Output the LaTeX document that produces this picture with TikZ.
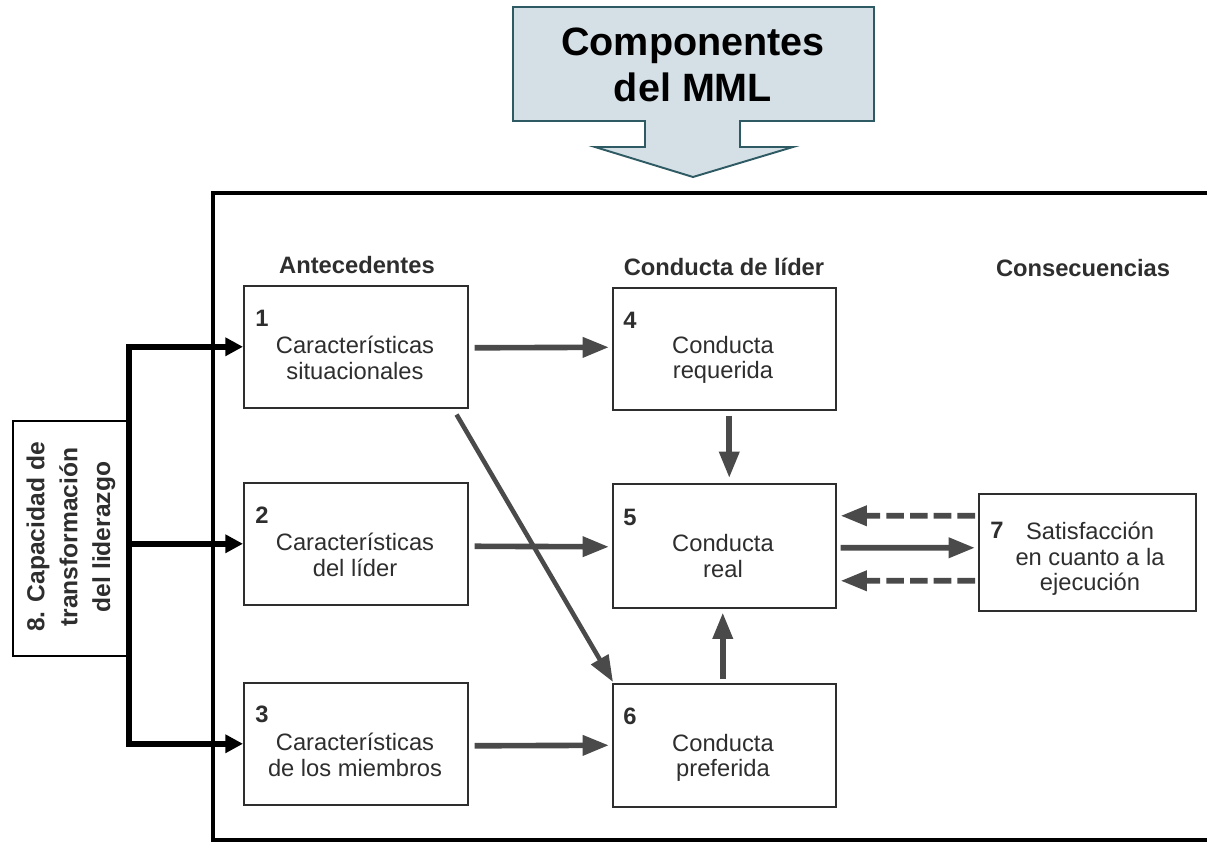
\documentclass[tikz,border=0pt]{standalone}
\usepackage{fontspec}
\setmainfont{Liberation Sans}
\usetikzlibrary{arrows.meta,calc}

\definecolor{titlefill}{HTML}{D5E0E6}
\definecolor{titleedge}{HTML}{2E5A63}
\definecolor{ink}{HTML}{2E2E2E}
\definecolor{flowgray}{HTML}{4A4A4A}

\begin{document}
\begin{tikzpicture}[x=0.02cm,y=-0.02cm,
  stagebox/.style={draw=ink, line width=0.9pt, fill=white, inner sep=0pt,
    anchor=north west, minimum width=4.48cm, minimum height=2.44cm},
  boxtext/.style={align=center, text=ink, inner sep=0pt,
    font=\fontsize{13.5}{14.6}\selectfont},
  numlabel/.style={text=ink, inner sep=0pt, font=\bfseries\fontsize{13.5}{14}\selectfont},
  header/.style={text=ink, inner sep=0pt, font=\bfseries\fontsize{13.5}{14}\selectfont},
  flow/.style={draw=flowgray, line width=3.2pt,
    -{Triangle[length=15pt,width=11pt]}},
  dashflow/.style={flow, dash pattern=on 10pt off 3.5pt},
  feed/.style={draw=black, line width=3.4pt, line join=miter,
    -{Triangle[length=10pt,width=10pt]}},
  frameline/.style={draw=black, line width=2.8pt, line join=miter}
]
\useasboundingbox (0,0) rectangle (1207,842);

% heading arrow
\fill[titlefill, draw=titleedge, line width=1.1pt, line join=miter]
  (513,7) -- (874,7) -- (874,121) -- (740,121) -- (740,147) -- (793,147)
  -- (693,177) -- (595,147) -- (645,147) -- (645,121) -- (513,121) -- cycle;
\node[align=center, inner sep=0pt, font=\bfseries\fontsize{22.5}{26}\selectfont]
  (title) at (693,65) {Componentes\\del MML};

% page frame
\draw[frameline] (1225,193) -- (213,193) -- (213,840) -- (1225,840);

% column headings
\node[header] (h1) at (357,265) {Antecedentes};
\node[header] (h2) at (724,267) {Conducta de líder};
\node[header] (h3) at (1083,268) {Consecuencias};

% antecedents
\node[stagebox] (b1) at (243,285) {};
\node[numlabel] (n1) at (262,318) {1};
\node[boxtext] (t1) at (355,358) {Características\\situacionales};

\node[stagebox] (b2) at (243,482) {};
\node[numlabel] (n2) at (262,515) {2};
\node[boxtext] (t2) at (355,555) {Características\\del líder};

\node[stagebox] (b3) at (243,682) {};
\node[numlabel] (n3) at (262,714) {3};
\node[boxtext] (t3) at (355,755) {Características\\de los miembros};

% leader behaviour
\node[stagebox, minimum width=4.46cm] (b4) at (612,287) {};
\node[numlabel] (n4) at (630,320) {4};
\node[boxtext] (t4) at (723,360) {Conducta\\requerida};

\node[stagebox, minimum width=4.46cm, minimum height=2.48cm] (b5) at (612,483) {};
\node[numlabel] (n5) at (630,517) {5};
\node[boxtext] (t5) at (723,556) {Conducta\\real};

\node[stagebox, minimum width=4.46cm, minimum height=2.46cm] (b6) at (612,683) {};
\node[numlabel] (n6) at (630,716) {6};
\node[boxtext] (t6) at (723,758) {Conducta\\preferida};

% consequences
\node[stagebox, minimum width=4.34cm, minimum height=2.34cm] (b7) at (978,493) {};
\node[numlabel] (n7) at (997,530) {7};
\node[boxtext] (t7) at (1090,559) {Satisfacción\\en cuanto a la\\ejecución};

% transformational leadership
\node[draw=black, line width=0.9pt, fill=white, inner sep=0pt, anchor=north west,
  minimum width=2.3cm, minimum height=4.7cm] (b8) at (12,420) {};
\node[rotate=90, align=center, inner sep=0pt, text=ink,
  font=\bfseries\fontsize{14}{18.7}\selectfont]
  (t8) at (71,537) {8. Capacidad de\\transformación\\del liderazgo};

% links between the stages
\draw[flow] ($(b1.east)+(6,1)$) -- ($(b4.west)+(-3,-1.5)$);
\draw[flow] ($(b2.east)+(6,2.5)$) -- ($(b5.west)+(-3,1)$);
\draw[flow] ($(b3.east)+(6,2)$) -- ($(b6.west)+(-3,0)$);
\draw[flow, line width=2.6pt] ($(b1.south east)+(-12,6)$) -- ($(b6.north west)+(1,-1)$);
\draw[flow] ($(b4.south)+(5,5)$) -- ($(b5.north)+(5,-5)$);
\draw[flow] ($(b6.north)+(-1.5,-4)$) -- ($(b5.south)+(-1.5,4)$);
\draw[dashflow] ($(b7.west)+(-3,-36.5)$) -- ($(b5.east)+(4,-30)$);
\draw[flow] ($(b5.east)+(4,2)$) -- ($(b7.west)+(-3,-4.5)$);
\draw[dashflow] ($(b7.west)+(-3,28.5)$) -- ($(b5.east)+(4,35)$);

% feedback from 8 into the antecedents
\draw[feed, {Triangle[length=10pt,width=10pt]}-{Triangle[length=10pt,width=10pt]}]
  (b1.west) -- (b8.east |- b1.west) -- (b8.east |- b3.west) -- (b3.west);
\draw[feed] (b8.east |- b2.west) -- (b2.west);
\end{tikzpicture}
\end{document}
